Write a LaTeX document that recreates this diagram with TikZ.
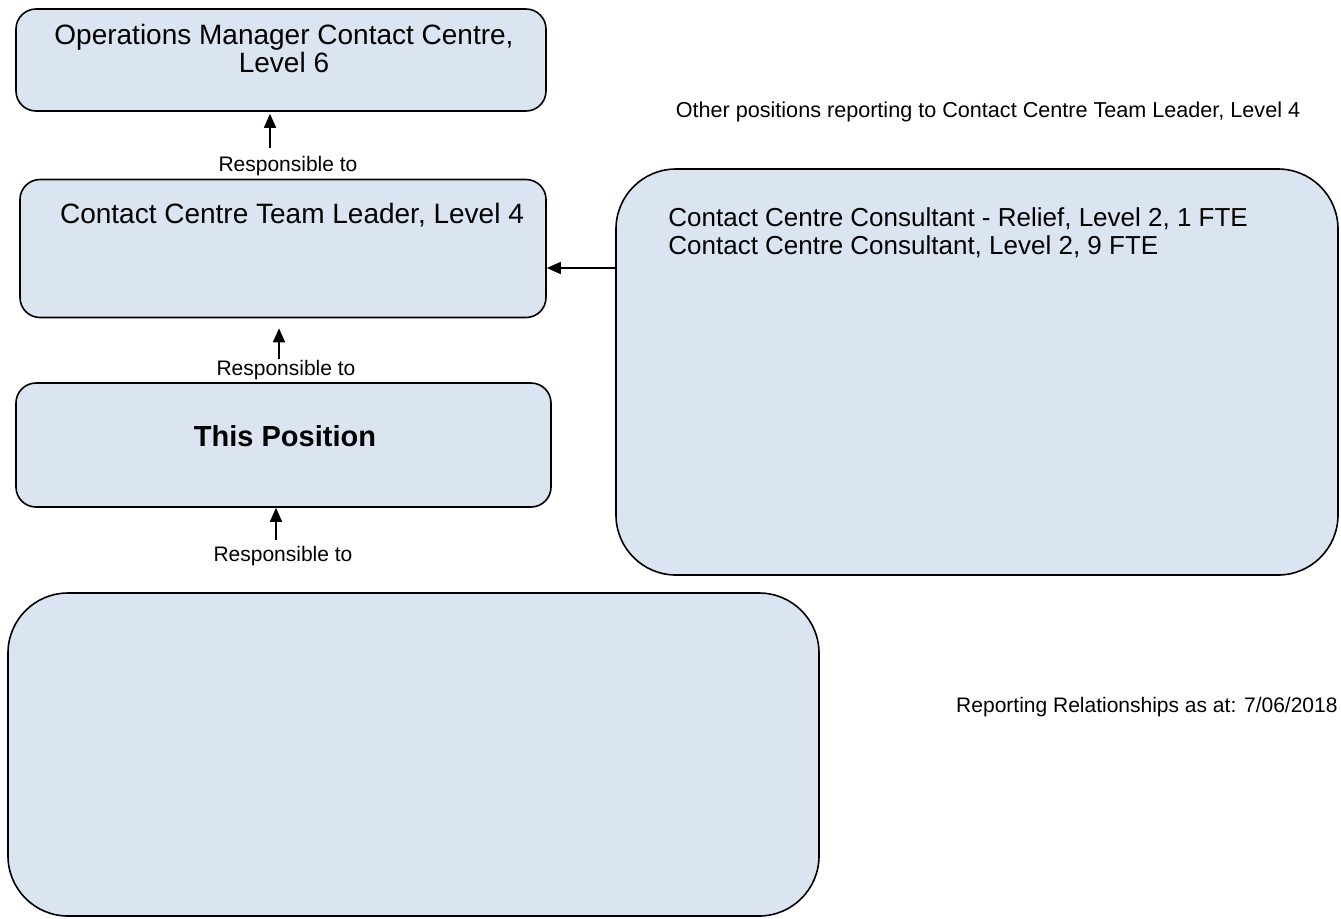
\documentclass[tikz,border=0pt]{standalone}
\usepackage{fontspec}
\setmainfont{Liberation Sans}
\usetikzlibrary{arrows.meta,positioning}
\definecolor{boxfill}{HTML}{DBE5F1}
\begin{document}
\begin{tikzpicture}[x=0.5pt,y=-0.5pt,>={Triangle[length=7pt,width=6pt]},line join=round,
		font=\fontsize{14}{14}\selectfont,
		posbox/.style={draw,line width=0.8pt,fill=boxfill,rounded corners=10pt,inner sep=0pt},
		bigbox/.style={posbox,rounded corners=30pt},
		resp/.style={font=\fontsize{10.5}{12.5}\selectfont,inner sep=0pt},
		arr/.style={->,line width=0.8pt}]
				\useasboundingbox (0,0) rectangle (1341,918);
				% boxes
				\node[posbox,minimum width=265pt,minimum height=51pt] (opsmgr) at (281,60) {};
				\node[posbox,minimum width=263pt,minimum height=69pt] (teamldr) at (283,248.5) {};
				\node[posbox,minimum width=267.5pt,minimum height=62pt] (thispos) at (283.5,445) {};
				\node[bigbox,minimum width=405.5pt,minimum height=161.5pt] (subord) at (413.5,754.5) {};
				\node[bigbox,minimum width=361pt,minimum height=203pt] (others) at (977,372) {};
				% texts
				\node[align=center] (opsmgrtxt) at (284,48) {Operations Manager Contact Centre,\\Level 6};
				\node (teamldrtxt) at (292,215) {Contact Centre Team Leader, Level 4};
				\node[font=\fontsize{14.5}{16}\selectfont\bfseries] (thispostxt) at (285,436) {This Position};
				\node[align=left,anchor=north west,inner sep=0pt,font=\fontsize{13}{14}\selectfont] (otherstxt) at (668,207)
					{Contact Centre Consultant - Relief, Level 2, 1 FTE\\Contact Centre Consultant, Level 2, 9 FTE};
				\node[resp,font=\fontsize{10.8}{12.5}\selectfont] (otherhead) at (988,112) {Other positions reporting to Contact Centre Team Leader, Level 4};
				\node[resp,anchor=east] (asat) at (1338,707) {Reporting Relationships as at: 7/06/2018};
				% responsible to
				\node[resp] (resp1) at (288,166) {Responsible to};
				\node[resp] (resp2) at (286,370) {Responsible to};
				\node[resp] (resp3) at (283,556) {Responsible to};
				\coordinate (a1) at (270,148);
				\coordinate (a2) at (279,359);
				\coordinate (a3) at (276,540);
				\draw[arr,shorten >=1pt] (a1) -- (a1 |- opsmgr.south);
				\draw[arr,shorten >=5pt] (a2) -- (a2 |- teamldr.south);
				\draw[arr] (a3) -- (a3 |- thispos.south);
				\draw[arr] (others.west |- 0,268) -- (teamldr.east |- 0,268);
		\end{tikzpicture}
\end{document}
